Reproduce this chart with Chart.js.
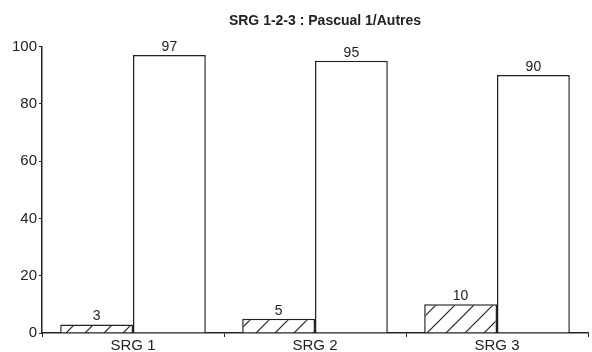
<!DOCTYPE html>
<html><head><meta charset="utf-8">
<script src="https://cdn.jsdelivr.net/npm/chart.js@4/dist/chart.umd.min.js"></script>
<style>html,body{margin:0;padding:0;background:#fff}#wrap{width:592px;height:352px}</style>
</head><body><div id="wrap"><canvas id="c" width="592" height="352"></canvas></div>
<script>
const categories = ["SRG 1", "SRG 2", "SRG 3"];
const pascualValues = [3, 5, 10];
const autresValues = [97, 95, 90];
const yTicks = [0, 20, 40, 60, 80, 100];
const titleText = 'SRG 1-2-3 : Pascual 1/Autres';
const FONT = '"Liberation Sans", Arial, sans-serif';

function hatch() {
  const s = 19, c = document.createElement('canvas');
  c.width = s; c.height = s;
  const g = c.getContext('2d');
  g.fillStyle = '#fff'; g.fillRect(0, 0, s, s);
  g.strokeStyle = '#222'; g.lineWidth = 1.2;
  g.beginPath();
  g.moveTo(-2, s + 2); g.lineTo(s + 2, -2);
  g.moveTo(-2, 2); g.lineTo(2, -2);
  g.moveTo(s - 2, s + 2); g.lineTo(s + 2, s - 2);
  g.stroke();
  return g.createPattern(c, 'repeat');
}

const labelPlugin = {
  id: 'vals',
  afterDatasetsDraw(chart) {
    const ctx = chart.ctx;
    ctx.save();
    ctx.font = '14px ' + FONT;
    ctx.fillStyle = '#222';
    ctx.textAlign = 'center';
    ctx.textBaseline = 'bottom';
    chart.data.datasets.forEach((ds, i) => {
      chart.getDatasetMeta(i).data.forEach((bar, j) => {
        ctx.fillText(String(ds.data[j]), bar.x, bar.y - 1);
      });
    });
    ctx.font = 'bold 14px ' + FONT;
    ctx.textBaseline = 'middle';
    ctx.fillText(titleText, 325, 21);
    ctx.restore();
  }
};

new Chart(document.getElementById('c'), {
  type: 'bar',
  data: {
    labels: categories,
    datasets: [
      { label: 'Pascual 1', data: pascualValues, backgroundColor: hatch(), borderColor: '#222', borderWidth: 1.5, borderSkipped: 'start' },
      { label: 'Autres', data: autresValues, backgroundColor: '#fff', borderColor: '#222', borderWidth: 1.5, borderSkipped: 'start' }
    ]
  },
  options: {
    responsive: false,
    animation: false,
    layout: { padding: { left: 0, right: 4, top: 0, bottom: 0 } },
    categoryPercentage: 0.8,
    barPercentage: 1.0,
    plugins: {
      legend: { display: false },
      tooltip: { enabled: false },
      title: {
        display: true,
        text: titleText,
        color: 'rgba(0,0,0,0)',
        font: { family: FONT, size: 12, weight: 'bold' },
        padding: { top: 13, bottom: 19 }
      }
    },
    scales: {
      x: {
        grid: { display: true, drawOnChartArea: false, drawTicks: true, tickLength: 4, color: '#222', offset: true },
        border: { display: true, color: '#222', width: 1.5 },
        ticks: { color: '#222', font: { family: FONT, size: 15 }, padding: 0 },
        afterFit(s) { s.height = 19; }
      },
      y: {
        min: 0, max: 100,
        afterBuildTicks(s) { s.ticks = yTicks.map(v => ({ value: v })); },
        grid: { display: true, drawOnChartArea: false, drawTicks: true, tickLength: 3, color: '#222' },
        border: { display: true, color: '#222', width: 1.5 },
        ticks: { color: '#222', font: { family: FONT, size: 15 }, padding: 2 },
        afterFit(s) { s.width = 42; }
      }
    }
  },
  plugins: [labelPlugin]
});
</script></body></html>
